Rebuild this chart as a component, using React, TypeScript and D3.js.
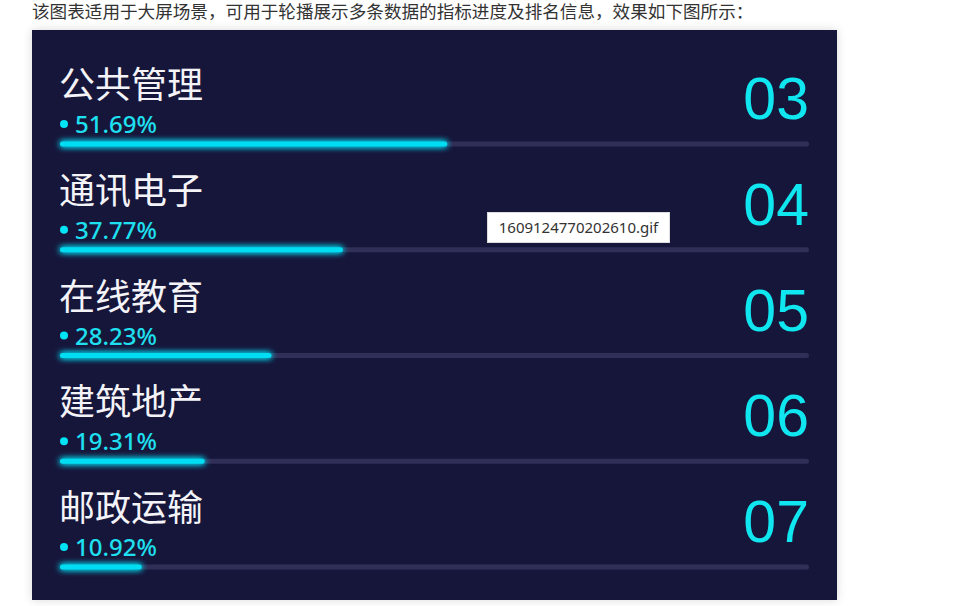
import React from "react";
import * as d3 from "d3";

const headerText = "该图表适用于大屏场景，可用于轮播展示多条数据的指标进度及排名信息，效果如下图所示：";
const categories = ["公共管理", "通讯电子", "在线教育", "建筑地产", "邮政运输"];
const values = [51.69, 37.77, 28.23, 19.31, 10.92];
const ranks = ["03", "04", "05", "06", "07"];
const tooltipText = "1609124770202610.gif";

const W = 976, H = 606;
const panel = { x: 32, y: 30, w: 805, h: 570 };
const barX0 = 60, barX1 = 809;

export default function App() {
  const x = d3.scaleLinear().domain([0, 100]).range([barX0, barX1]);
  const rowY = d3.scaleLinear().domain([0, categories.length - 1]).range([144, 567]);
  return (
    <svg width={W} height={H} style={{ position: "fixed", left: 0, top: 0, background: "#fff" }}>
      <defs>
        <filter id="glow" x="-20%" y="-300%" width="140%" height="700%">
          <feGaussianBlur stdDeviation="3" result="b" />
          <feMerge>
            <feMergeNode in="b" />
            <feMergeNode in="b" />
            <feMergeNode in="SourceGraphic" />
          </feMerge>
        </filter>
        <filter id="shadow" x="-5%" y="-5%" width="110%" height="110%">
          <feDropShadow dx="0" dy="0" stdDeviation="5" floodColor="#000" floodOpacity="0.15" />
        </filter>
      </defs>
      <text x={32} y={18} fontFamily="'Noto Sans CJK SC', sans-serif" fontSize={17.6} fill="#333">{headerText}</text>
      <rect x={panel.x} y={panel.y} width={panel.w} height={panel.h} fill="#17163b" filter="url(#shadow)" />
      {categories.map((c, i) => {
        const cy = rowY(i);
        return (
          <g key={c}>
            <text x={59} y={cy - 46} fontFamily="'Noto Sans CJK SC', sans-serif" fontSize={36} fill="#f4f4f8">{c}</text>
            <circle cx={64} cy={cy - 20} r={4} fill="#00e4f5" />
            <text x={75} y={cy - 11} fontFamily="'Noto Sans', 'Noto Sans CJK SC', sans-serif" fontSize={24} fontWeight={500} fill="#1ee0f0">{values[i].toFixed(2)}%</text>
            <text x={809} y={cy - 25} textAnchor="end" fontFamily="'Liberation Sans', Arial, sans-serif" fontSize={59} fill="#10e6f0">{ranks[i]}</text>
            <rect x={barX0} y={cy - 2.5} width={barX1 - barX0} height={5} rx={2.5} fill="#302f58" />
            <rect x={barX0} y={cy - 2.5} width={x(values[i]) - barX0} height={5} rx={2.5} fill="#00dcf2" filter="url(#glow)" />
          </g>
        );
      })}
      <rect x={487.5} y={212.5} width={182} height={30} fill="#fff" stroke="#ddd" />
      <text x={578.5} y={233} textAnchor="middle" fontFamily="'Noto Sans', sans-serif" fontSize={15} fill="#333">{tooltipText}</text>
    </svg>
  );
}
